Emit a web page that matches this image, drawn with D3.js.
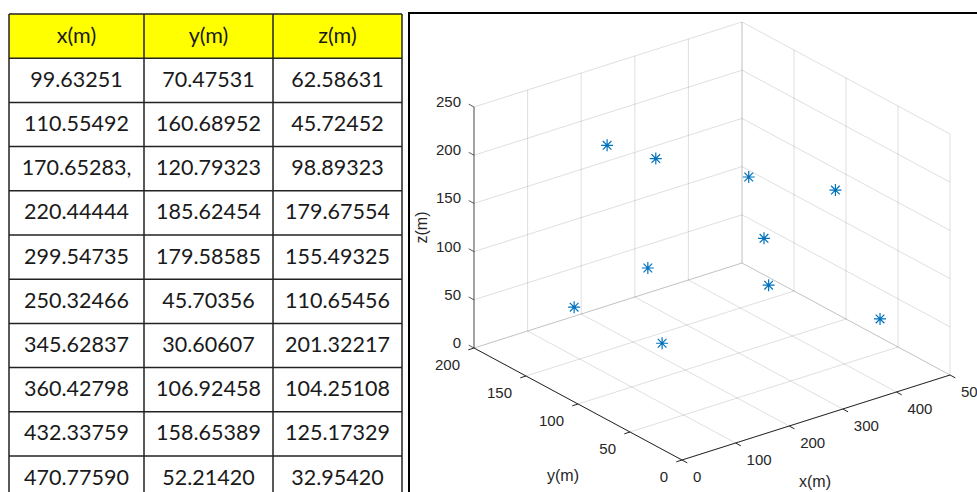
<!DOCTYPE html>
<html>
<head>
<meta charset="utf-8">
<script src="https://cdn.jsdelivr.net/npm/d3@7"></script>
<style>
  body { margin: 0; background: #fff; }
  svg { display: block; }
</style>
</head>
<body>
<svg id="chart" width="977" height="492"></svg>
<script>
// table columns (text as it is written in the table)
var headers = ["x(m)", "y(m)", "z(m)"]
var xVals = ["99.63251", "110.55492", "170.65283,", "220.44444", "299.54735",
             "250.32466", "345.62837", "360.42798", "432.33759", "470.77590"]
var yVals = ["70.47531", "160.68952", "120.79323", "185.62454", "179.58585",
             "45.70356", "30.60607", "106.92458", "158.65389", "52.21420"]
var zVals = ["62.58631", "45.72452", "98.89323", "179.67554", "155.49325",
             "110.65456", "201.32217", "104.25108", "125.17329", "32.95420"]

// axis ticks
var xTicks = [0, 100, 200, 300, 400, 500]
var yTicks = [0, 50, 100, 150, 200]
var zTicks = [0, 50, 100, 150, 200, 250]

var svg = d3.select("#chart")

// ---------- table ----------
var colEdges = [9, 144, 273, 402]
var nRows = xVals.length + 1
var row = d3.scaleBand()
    .domain(d3.range(nRows))
    .range([14, 14 + nRows * 44.2])

var tbl = svg.append("g")
var cols = [xVals, yVals, zVals]
var tblFont = "Lato, 'Open Sans', sans-serif"

tbl.append("rect")
    .attr("x", colEdges[0]).attr("y", row(0))
    .attr("width", colEdges[3] - colEdges[0]).attr("height", row.bandwidth())
    .attr("fill", "#ffff00")

// cell text
cols.forEach(function(col, ci) {
  var cx = (colEdges[ci] + colEdges[ci + 1]) / 2
  tbl.append("text")
      .attr("x", cx).attr("y", row(0) + row.bandwidth() / 2 + 1)
      .attr("text-anchor", "middle").attr("dominant-baseline", "middle")
      .style("font-family", tblFont).style("font-size", "21.5px")
      .attr("fill", "#1a1a1a")
      .text(headers[ci])
  tbl.selectAll(null)
    .data(col)
    .enter()
    .append("text")
      .attr("x", cx)
      .attr("y", function(d, i) { return row(i + 1) + row.bandwidth() / 2 + 1 })
      .attr("text-anchor", "middle").attr("dominant-baseline", "middle")
      .style("font-family", tblFont).style("font-size", "21.5px")
      .attr("fill", "#1a1a1a")
      .text(function(d) { return d })
})

// borders
d3.range(nRows + 1).forEach(function(i) {
  var yy = i < nRows ? row(i) : row(nRows - 1) + row.bandwidth()
  tbl.append("line")
      .attr("x1", colEdges[0]).attr("x2", colEdges[3])
      .attr("y1", yy).attr("y2", yy)
      .attr("stroke", "#222").attr("stroke-width", 1.5)
})
colEdges.forEach(function(cx) {
  tbl.append("line")
      .attr("x1", cx).attr("x2", cx)
      .attr("y1", row(0)).attr("y2", row(nRows - 1) + row.bandwidth())
      .attr("stroke", "#222").attr("stroke-width", 1.5)
})

// ---------- plot frame ----------
svg.append("path")
    .attr("d", "M409,500 L409,13 L990,13")
    .attr("fill", "none").attr("stroke", "#000").attr("stroke-width", 2)

// ---------- 3d axes ----------
var x = d3.scaleLinear().domain([0, 500]).range([0, 1])
var y = d3.scaleLinear().domain([0, 200]).range([0, 1])
var z = d3.scaleLinear().domain([0, 250]).range([0, 1])

var origin = [682, 460]
var ax = [268, -85], ay = [-208, -112], az = [0, -241]

function proj(a, b, c) {
  var u = x(a), v = y(b), w = z(c)
  return [origin[0] + u * ax[0] + v * ay[0] + w * az[0],
          origin[1] + u * ax[1] + v * ay[1] + w * az[1]]
}

var g = svg.append("g")

function seg(p, q, color, width, op) {
  g.append("line")
      .attr("x1", p[0]).attr("y1", p[1]).attr("x2", q[0]).attr("y2", q[1])
      .attr("stroke", color).attr("stroke-width", width)
      .attr("stroke-opacity", op)
}

var gridCol = "#262626", gridOp = 0.15

// floor z = 0
xTicks.forEach(function(t) { seg(proj(t, 0, 0), proj(t, 200, 0), gridCol, 1, gridOp) })
yTicks.forEach(function(t) { seg(proj(0, t, 0), proj(500, t, 0), gridCol, 1, gridOp) })
// back wall y = 200
xTicks.forEach(function(t) { seg(proj(t, 200, 0), proj(t, 200, 250), gridCol, 1, gridOp) })
zTicks.forEach(function(t) { seg(proj(0, 200, t), proj(500, 200, t), gridCol, 1, gridOp) })
// back wall x = 500
yTicks.forEach(function(t) { seg(proj(500, t, 0), proj(500, t, 250), gridCol, 1, gridOp) })
zTicks.forEach(function(t) { seg(proj(500, 0, t), proj(500, 200, t), gridCol, 1, gridOp) })

// axis lines
var axCol = "#262626"
seg(proj(0, 200, 0), proj(0, 200, 250), axCol, 1, 0.75)
seg(proj(0, 0, 0), proj(0, 200, 0), axCol, 1, 1)
seg(proj(0, 0, 0), proj(500, 0, 0), axCol, 1, 1)

function unit(v) { var l = Math.hypot(v[0], v[1]); return [v[0] / l, v[1] / l] }
var tl = 6
var zDir = unit(ay), yDir = unit([-ax[0], -ax[1]]), xDir = unit([-ay[0], -ay[1]])

var lblFont = "'Liberation Sans', Arial, sans-serif"

function label(px, py, txt, anchor, size) {
  return g.append("text")
      .attr("x", px).attr("y", py)
      .attr("text-anchor", anchor).attr("dominant-baseline", "middle")
      .style("font-family", lblFont).style("font-size", size || "15px")
      .attr("fill", "#262626")
      .text(txt)
}

zTicks.forEach(function(t) {
  var p = proj(0, 200, t)
  seg(p, [p[0] + zDir[0] * tl, p[1] + zDir[1] * tl], axCol, 1, 0.75)
  label(p[0] - 13, p[1] - 4, t, "end")
})
yTicks.forEach(function(t) {
  var p = proj(0, t, 0)
  seg(p, [p[0] + yDir[0] * tl, p[1] + yDir[1] * tl], axCol, 1, 1)
  label(p[0] - 14, p[1] + 18, t, "end")
})
xTicks.forEach(function(t) {
  var p = proj(t, 0, 0)
  seg(p, [p[0] + xDir[0] * tl, p[1] + xDir[1] * tl], axCol, 1, 1)
  label(p[0] + 11, p[1] + 18, t, "start")
})

// axis titles
var pz = proj(0, 200, 125)
g.append("text")
    .attr("transform", "translate(" + (pz[0] - 51) + "," + (pz[1]) + ") rotate(-90)")
    .attr("text-anchor", "middle").attr("dominant-baseline", "middle")
    .style("font-family", lblFont).style("font-size", "16px").attr("fill", "#262626")
    .text("z(m)")
var py = proj(0, 100, 0)
label(py[0] - 15, py[1] + 73, "y(m)", "middle", "16px")
var px = proj(250, 0, 0)
label(px[0] - 1, px[1] + 65, "x(m)", "middle", "16px")

// ---------- points ----------
var pts = xVals.map(function(d, i) {
  return proj(parseFloat(d), parseFloat(yVals[i]), parseFloat(zVals[i]))
})
var r = 6, rd = r * 0.72
var star = "M0," + (-r) + "V" + r + "M" + (-r) + ",0H" + r +
           "M" + (-rd) + "," + (-rd) + "L" + rd + "," + rd +
           "M" + (-rd) + "," + rd + "L" + rd + "," + (-rd)

g.selectAll(".pt")
  .data(pts)
  .enter()
  .append("path")
    .attr("class", "pt")
    .attr("transform", function(d) { return "translate(" + d[0] + "," + d[1] + ")" })
    .attr("d", star)
    .attr("fill", "none")
    .attr("stroke", "#0072bd")
    .attr("stroke-width", 1.2)
</script>
</body>
</html>
